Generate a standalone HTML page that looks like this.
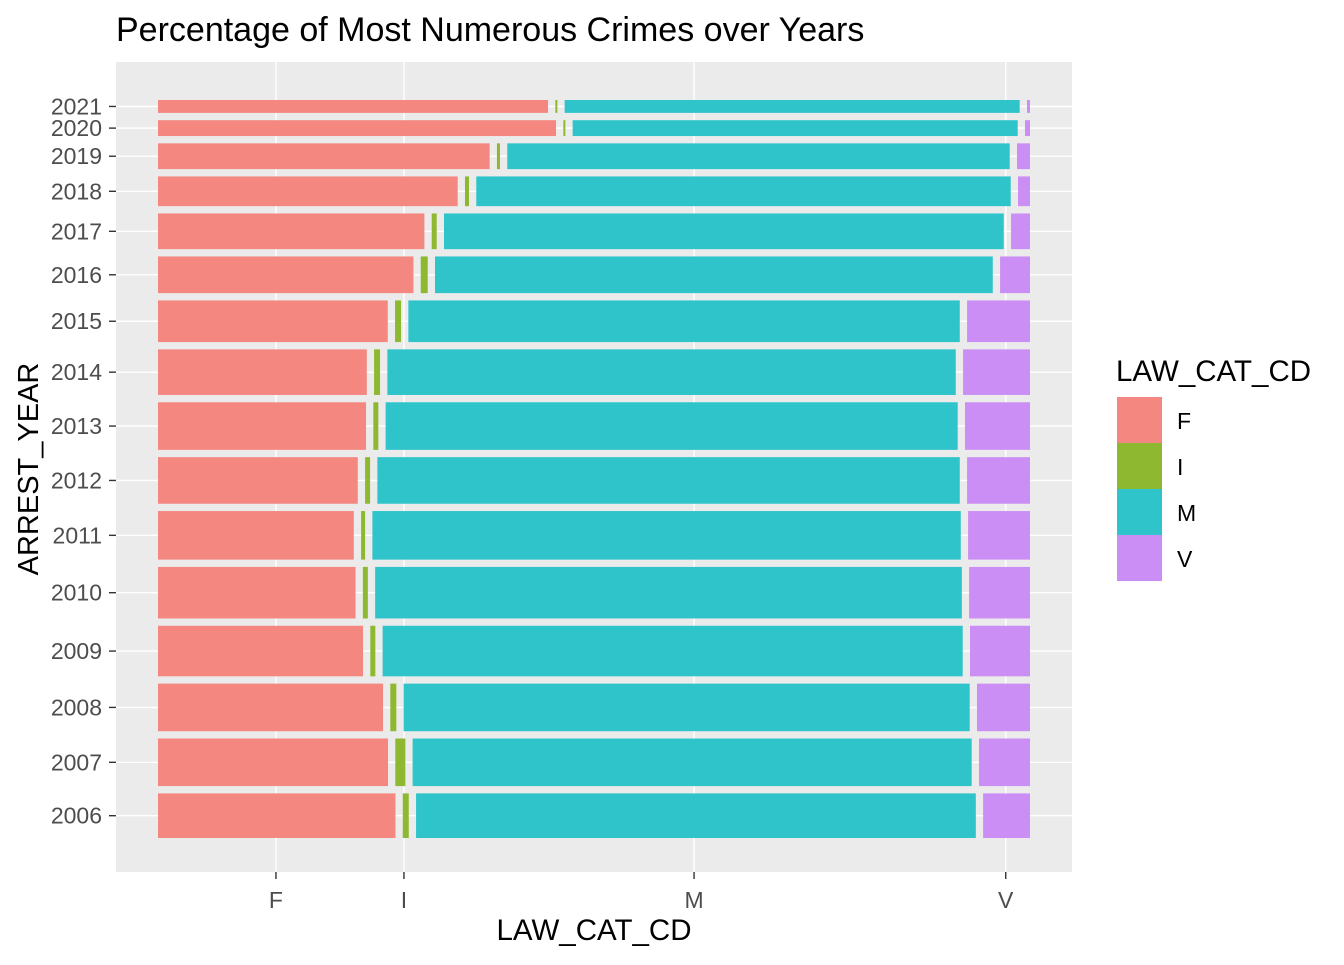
<!DOCTYPE html>
<html><head><meta charset="utf-8"><style>
body{margin:0;background:#fff;font-family:"Liberation Sans",Arial,sans-serif}
</style></head><body>
<svg id="chart" width="1344" height="960" xmlns="http://www.w3.org/2000/svg">
<text x="116" y="41" font-size="34" fill="#000">Percentage of Most Numerous Crimes over Years</text>
<rect x="116" y="62" width="956" height="810" fill="#EBEBEB"/>
<g id="grid"></g><g id="bars"></g><g id="axes"></g>
<text x="594" y="940" font-size="29.5" text-anchor="middle">LAW_CAT_CD</text>
<text transform="translate(38,469) rotate(-90)" font-size="29" text-anchor="middle">ARREST_YEAR</text>
<g id="legend"></g>
</svg>
<script>
const years=["2021","2020","2019","2018","2017","2016","2015","2014","2013","2012","2011","2010","2009","2008","2007","2006"];
const yearCounts=[13,16,26,30,36,37,42,46,48,47,49,52,51,48,48,45];
const categories=["F","I","M","V"];
const shareF=[390,398,332,300,267,256,230,209,208,200,196,198,205,225,230,238];
const shareI=[2,2,3,4,5,7,6,6,5,5,4,5,5,6,10,6];
const shareM=[455,445,503,535,561,559,552,569,572,583,589,588,580,566,559,561];
const shareV=[3,5,13,12,19,30,63,67,65,63,62,61,60,53,51,47];
const colors=["#F4877F","#8DB82F","#2EC4CA","#CB8EF5"];
const NS="http://www.w3.org/2000/svg";
function mk(t,a,p){const e=document.createElementNS(NS,t);for(const k in a)e.setAttribute(k,a[k]);p.appendChild(e);return e;}
const X0=158,X1=1030,Y0=100,Y1=838,G=7.3;
const series=[shareF,shareI,shareM,shareV];
const totalH=yearCounts.reduce((a,b)=>a+b,0);
const hScale=(Y1-Y0-G*(years.length-1))/totalH;
const wUsable=X1-X0-G*3;
const grid=document.getElementById('grid'),bars=document.getElementById('bars'),axes=document.getElementById('axes');
const marg=categories.map((c,j)=>{let s=0,t=0;years.forEach((y,i)=>{const rs=series.reduce((a,sr)=>a+sr[i],0);s+=series[j][i]/rs*yearCounts[i];t+=yearCounts[i];});return s/t;});
let cx=X0;const xTicks=[];
marg.forEach(m=>{const w=m*wUsable;xTicks.push(cx+w/2);cx+=w+G;});
let y=Y0;const yCenters=[];
years.forEach((yr,i)=>{const h=yearCounts[i]*hScale;yCenters.push(y+h/2);y+=h+G;});
xTicks.forEach((x,j)=>{
 const l=mk('line',{x1:x,x2:x,y1:62,y2:872,stroke:'#fff','stroke-width':1.4},grid);
 
 
 const t=mk('line',{x1:x,x2:x,y1:872,y2:879,stroke:'#333','stroke-width':1.4},axes);
 
 
 const tx=mk('text',{x:x,y:908,'font-size':23,fill:'#4D4D4D','text-anchor':'middle'},axes);tx.textContent=categories[j];
 
 
});
yCenters.forEach((yc,i)=>{
 const l=mk('line',{x1:116,x2:1072,y1:yc,y2:yc,stroke:'#fff','stroke-width':1.4},grid);
 
 
 const t=mk('line',{x1:109,x2:116,y1:yc,y2:yc,stroke:'#333','stroke-width':1.4},axes);
 
 
 const tx=mk('text',{x:102,y:yc+8,'font-size':23,fill:'#4D4D4D','text-anchor':'end'},axes);tx.textContent=years[i];
 
 
});
y=Y0;
years.forEach((yr,i)=>{
 const h=yearCounts[i]*hScale;const rs=series.reduce((a,sr)=>a+sr[i],0);let x=X0;
 series.forEach((sr,j)=>{const w=sr[i]/rs*wUsable;
  const r=mk('rect',{x:x,y:y,width:Math.max(w,0.5),height:h,fill:colors[j]},bars);
  
  
  x+=w+G;});
 y+=h+G;
});
const lg=document.getElementById('legend');
const lt=mk('text',{x:1116,y:381,'font-size':29.5},lg);lt.textContent='LAW_CAT_CD';


categories.forEach((c,j)=>{
 const r=mk('rect',{x:1117,y:397+j*46,width:45,height:46,fill:colors[j]},lg);
 
 
 const t=mk('text',{x:1177,y:429+j*46,'font-size':23},lg);t.textContent=c;
 
 
});
</script>
</body></html>
